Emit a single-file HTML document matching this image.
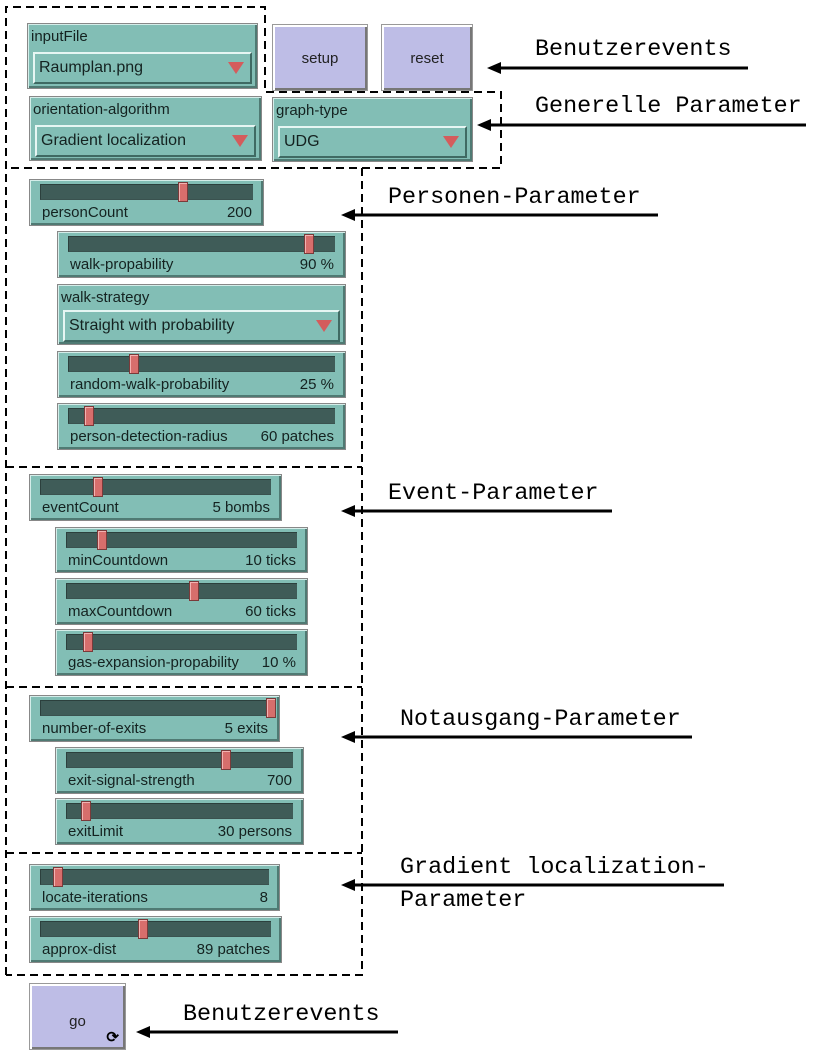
<!DOCTYPE html>
<html><head><meta charset="utf-8"><style>
body{margin:0;width:813px;height:1055px;background:#fff;position:relative;overflow:hidden;font-family:"Liberation Sans",Arial,sans-serif}
.w{position:absolute;background:#82beb5;border:1px solid #888;box-shadow:inset 1px 1px 0 #d4ede9,inset -2px -2px 0 #4f7a73;box-sizing:border-box}
.tr{position:absolute;left:10px;right:10px;top:4px;height:16px;background:#3f5c58;border-top:1px solid #2c403d;border-left:1px solid #2c403d;border-bottom:1px solid #3a524f;box-sizing:border-box}
.th{position:absolute;top:2px;width:10px;height:20px;background:#d76e6c;border:1px solid #7a3a3a;box-shadow:inset 1px 1px 0 #f2b3b2;box-sizing:border-box}
.l{position:absolute;left:12px;top:24px;font-size:15px;color:#142220}
.v{position:absolute;right:11px;top:24px;font-size:15px;color:#142220}
.ct{position:absolute;left:3px;top:4px;font-size:15px;color:#142220}
.dd{position:absolute;left:5px;right:5px;top:28px;height:32px;background:#82beb5;border-top:2px solid #e6f6f3;border-left:2px solid #e6f6f3;border-right:2px solid #3f6a63;border-bottom:2px solid #3f6a63;box-sizing:border-box}
.dd span{position:absolute;left:4px;top:5px;font-size:16px;color:#142220}
.dd i{position:absolute;right:6px;top:8px;width:0;height:0;border-left:8px solid transparent;border-right:8px solid transparent;border-top:12px solid #d45c5c}
.b{position:absolute;background:#bebde6;border:1px solid #999;box-shadow:inset 2px 2px 0 #fff,inset -2px -2px 0 #777;box-sizing:border-box;font-size:15px;color:#222;text-align:center}
.t{position:absolute;font-family:"Liberation Mono","Noto Serif CJK SC",monospace;font-size:23.4px;color:#000;white-space:pre;line-height:1}
</style></head><body>

<svg width="813" height="1055" style="position:absolute;left:0;top:0">
<g fill="none" stroke="#000" stroke-width="2" stroke-dasharray="8,5">
<path d="M6,975 L6,7 L265,7 L265,92 L501,92 L501,168 L6,168"/>
<path d="M362,168 L362,975 L6,975"/>
<path d="M6,467 L362,467 M6,687 L362,687 M6,853 L362,853"/>
</g>
<g stroke="#000" stroke-width="3">
<line x1="498" y1="68" x2="748" y2="68"/>
<line x1="488" y1="125" x2="806" y2="125"/>
<line x1="352" y1="215" x2="658" y2="215"/>
<line x1="352" y1="511" x2="612" y2="511"/>
<line x1="352" y1="737" x2="692" y2="737"/>
<line x1="352" y1="885" x2="724" y2="885"/>
<line x1="147" y1="1032" x2="398" y2="1032"/>
</g>
<g fill="#000">
<polygon points="487,68 501,62 501,74"/>
<polygon points="477,125 491,119 491,131"/>
<polygon points="341,215 355,209 355,221"/>
<polygon points="341,511 355,505 355,517"/>
<polygon points="341,737 355,731 355,743"/>
<polygon points="341,885 355,879 355,891"/>
<polygon points="136,1032 150,1026 150,1038"/>
</g>
</svg>

<div class="t" style="left:535px;top:39px">Benutzerevents</div>
<div class="t" style="left:535px;top:96px">Generelle Parameter</div>
<div class="t" style="left:388px;top:187px">Personen-Parameter</div>
<div class="t" style="left:388px;top:483px">Event-Parameter</div>
<div class="t" style="left:400px;top:709px">Notausgang-Parameter</div>
<div class="t" style="left:400px;top:857px">Gradient localization-</div>
<div class="t" style="left:400px;top:890px">Parameter</div>
<div class="t" style="left:183px;top:1004px">Benutzerevents</div>

<div class="w" style="left:27px;top:23px;width:231px;height:66px"><div class="ct">inputFile</div><div class="dd"><span>Raumplan.png</span><i></i></div></div>
<div class="b" style="left:272px;top:24px;width:96px;height:67px;line-height:67px">setup</div>
<div class="b" style="left:381px;top:24px;width:92px;height:67px;line-height:67px">reset</div>
<div class="w" style="left:29px;top:96px;width:233px;height:65px"><div class="ct">orientation-algorithm</div><div class="dd"><span>Gradient localization</span><i></i></div></div>
<div class="w" style="left:272px;top:97px;width:201px;height:65px"><div class="ct">graph-type</div><div class="dd"><span>UDG</span><i></i></div></div>

<div class="w" style="left:29px;top:179px;width:235px;height:47px"><div class="tr"></div><div class="th" style="left:148px"></div><div class="l">personCount</div><div class="v">200</div></div>
<div class="w" style="left:57px;top:231px;width:289px;height:47px"><div class="tr"></div><div class="th" style="left:246px"></div><div class="l">walk-propability</div><div class="v">90 %</div></div>
<div class="w" style="left:57px;top:284px;width:289px;height:61px"><div class="ct">walk-strategy</div><div class="dd" style="top:25px"><span>Straight with probability</span><i></i></div></div>
<div class="w" style="left:57px;top:351px;width:289px;height:47px"><div class="tr"></div><div class="th" style="left:71px"></div><div class="l">random-walk-probability</div><div class="v">25 %</div></div>
<div class="w" style="left:57px;top:403px;width:289px;height:47px"><div class="tr"></div><div class="th" style="left:26px"></div><div class="l">person-detection-radius</div><div class="v">60 patches</div></div>

<div class="w" style="left:29px;top:474px;width:253px;height:47px"><div class="tr"></div><div class="th" style="left:63px"></div><div class="l">eventCount</div><div class="v">5 bombs</div></div>
<div class="w" style="left:55px;top:527px;width:253px;height:46px"><div class="tr"></div><div class="th" style="left:41px"></div><div class="l">minCountdown</div><div class="v">10 ticks</div></div>
<div class="w" style="left:55px;top:578px;width:253px;height:47px"><div class="tr"></div><div class="th" style="left:133px"></div><div class="l">maxCountdown</div><div class="v">60 ticks</div></div>
<div class="w" style="left:55px;top:629px;width:253px;height:47px"><div class="tr"></div><div class="th" style="left:27px"></div><div class="l">gas-expansion-propability</div><div class="v">10 %</div></div>

<div class="w" style="left:29px;top:695px;width:251px;height:47px"><div class="tr"></div><div class="th" style="left:236px"></div><div class="l">number-of-exits</div><div class="v">5 exits</div></div>
<div class="w" style="left:55px;top:747px;width:249px;height:47px"><div class="tr"></div><div class="th" style="left:165px"></div><div class="l">exit-signal-strength</div><div class="v">700</div></div>
<div class="w" style="left:55px;top:798px;width:249px;height:47px"><div class="tr"></div><div class="th" style="left:25px"></div><div class="l">exitLimit</div><div class="v">30 persons</div></div>

<div class="w" style="left:29px;top:864px;width:251px;height:47px"><div class="tr"></div><div class="th" style="left:23px"></div><div class="l">locate-iterations</div><div class="v">8</div></div>
<div class="w" style="left:29px;top:916px;width:253px;height:47px"><div class="tr"></div><div class="th" style="left:108px"></div><div class="l">approx-dist</div><div class="v">89 patches</div></div>

<div class="b" style="left:29px;top:983px;width:97px;height:67px;line-height:76px">go<span style="position:absolute;right:6px;bottom:4px;line-height:14px;font-size:15px;font-weight:bold;color:#000">⟳</span></div>
</body></html>
